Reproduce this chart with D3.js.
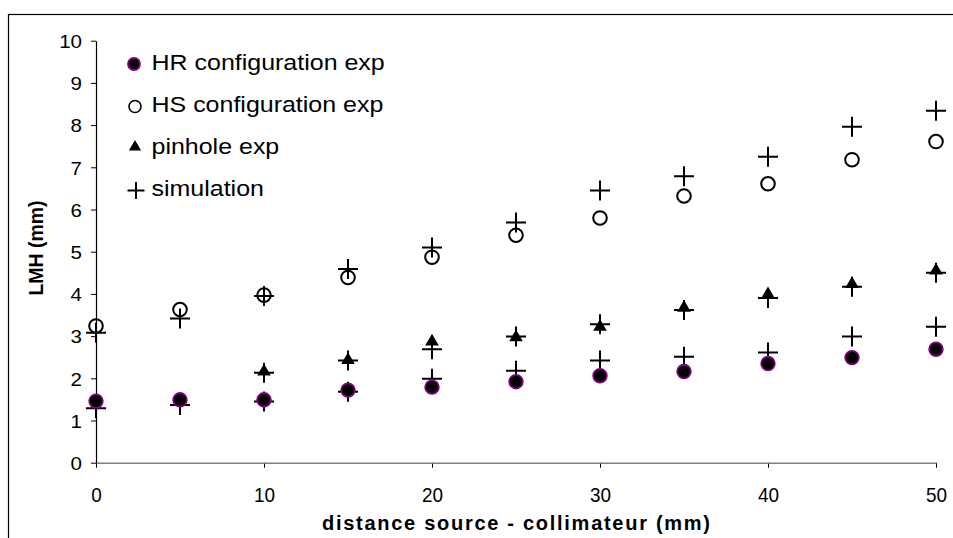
<!DOCTYPE html>
<html><head><meta charset="utf-8">
<script src="https://cdn.jsdelivr.net/npm/d3@7/dist/d3.min.js"></script>
<style>body{margin:0;background:#fff}svg{display:block}text{font-family:Arial,"Liberation Sans",sans-serif}</style>
</head><body>
<svg id="c" width="953" height="538"></svg>
<script>
const distances = [0,5,10,15,20,25,30,35,40,45,50];
const hrExp = [1.46,1.49,1.49,1.72,1.79,1.92,2.06,2.16,2.35,2.49,2.69];
const hsExp = [3.24,3.63,3.97,4.39,4.87,5.39,5.80,6.32,6.61,7.18,7.61];
const pinholeDist = [10,15,20,25,30,35,40,45,50];
const pinholeExp = [2.16,2.43,2.87,2.97,3.22,3.67,3.99,4.23,4.55];
const simHR = [1.29,1.37,1.45,1.68,1.99,2.18,2.42,2.51,2.61,2.99,3.22];
const simHS = [3.08,3.42,3.95,4.59,5.10,5.69,6.45,6.79,7.25,7.96,8.34];
const simPinhole = [2.13,2.42,2.69,2.99,3.28,3.62,3.90,4.17,4.50];
const xTicks = [0,10,20,30,40,50];
const yTicks = [0,1,2,3,4,5,6,7,8,9,10];
const legendLabels = ["HR configuration exp","HS configuration exp","pinhole exp","simulation"];
const xTitle = "distance source - collimateur (mm)";
const yTitle = "LMH (mm)";

const FONT = "Arial,'Liberation Sans',sans-serif";
const svg = d3.select("#c");
function stretch(sel, f){
  sel.each(function(){
    const w = this.getComputedTextLength();
    d3.select(this).attr("textLength", w*f).attr("lengthAdjust","spacingAndGlyphs");
  });
}
// outer frame
svg.append("rect").attr("x",8.5).attr("y",14.5).attr("width",960).attr("height",540)
  .attr("fill","none").attr("stroke","#000").attr("stroke-width",1.2);

const x = d3.scaleLinear().domain([0,50]).range([96,936]);
const y = d3.scaleLinear().domain([0,10]).range([462.7,40.7]);

// x axis (gray)
const gx = svg.append("g").attr("transform",`translate(0,${y(0)})`)
  .call(d3.axisBottom(x).tickValues(xTicks).tickSize(5).tickSizeOuter(0).tickPadding(0));
gx.select(".domain").attr("stroke","#808080").attr("stroke-width",1.5);
gx.selectAll(".tick line").attr("stroke","#000");
gx.selectAll("text").attr("font-size",21).attr("fill","#000").attr("font-family",FONT)
  .attr("y",39.5).attr("dy",null);
stretch(gx.selectAll("text"),0.9);

// y axis (black)
const gy = svg.append("g").attr("transform",`translate(${x(0)},0)`)
  .call(d3.axisLeft(y).tickValues(yTicks).tickSize(5).tickSizeOuter(0).tickPadding(0));
gy.select(".domain").attr("stroke","#000").attr("stroke-width",1.2);
gy.selectAll("text").attr("font-size",19).attr("fill","#000").attr("font-family",FONT)
  .attr("x",-14).attr("dy","0.36em");
stretch(gy.selectAll("text"),1.08);
gy.raise();
gx.select(".domain").raise();

const xt = svg.append("text").attr("x",516).attr("y",530).attr("text-anchor","middle")
  .attr("font-weight","bold").attr("font-size",20).text(xTitle);
xt.attr("textLength",388).attr("lengthAdjust","spacing");
const yt = svg.append("text").attr("transform","translate(43,248) rotate(-90)").attr("text-anchor","middle")
  .attr("font-weight","bold").attr("font-size",19.5).text(yTitle);
yt.attr("textLength",95).attr("lengthAdjust","spacingAndGlyphs");

const tri = d3.symbol().type(d3.symbolTriangle).size(80);
function plus(g, cx, cy, h){
  h = h || 10;
  g.append("path").attr("d",`M${cx-h},${cy}H${cx+h}M${cx},${cy-h}V${cy+h}`)
   .attr("stroke","#000").attr("stroke-width",2).attr("fill","none");
}

const pts = svg.append("g");
// simulation pluses
simHS.forEach((v,i)=>plus(pts, x(distances[i]), y(v)));
simPinhole.forEach((v,i)=>plus(pts, x(pinholeDist[i]), y(v)));
simHR.forEach((v,i)=>plus(pts, x(distances[i]), y(v)));
// HS open circles
pts.selectAll(".hs").data(hsExp).join("circle").attr("class","hs")
  .attr("cx",(d,i)=>x(distances[i])).attr("cy",d=>y(d)).attr("r",6.8)
  .attr("fill","none").attr("stroke","#000").attr("stroke-width",2);
// pinhole triangles
pts.selectAll(".ph").data(pinholeExp).join("path").attr("class","ph")
  .attr("d",tri).attr("transform",(d,i)=>`translate(${x(pinholeDist[i])},${y(d)})`).attr("fill","#000");
// HR filled circles
pts.selectAll(".hr").data(hrExp).join("circle").attr("class","hr")
  .attr("cx",(d,i)=>x(distances[i])).attr("cy",d=>y(d)).attr("r",6.8)
  .attr("fill","#000").attr("stroke","#800080").attr("stroke-width",1.8);

// legend
const lg = svg.append("g");
const lb = [70,112,154,196];
lg.append("circle").attr("cx",134).attr("cy",64).attr("r",6).attr("fill","#000").attr("stroke","#800080").attr("stroke-width",1.8);
lg.append("circle").attr("cx",135).attr("cy",106.5).attr("r",6).attr("fill","none").attr("stroke","#000").attr("stroke-width",1.6);
lg.append("path").attr("d",d3.symbol().type(d3.symbolTriangle).size(65)).attr("transform",`translate(135,147)`).attr("fill","#000");
plus(lg,136,190.5,8.5);
const lt = lg.selectAll(".lt").data(legendLabels).join("text").attr("class","lt")
  .attr("x",151.5).attr("y",(d,i)=>lb[i]).attr("font-size",22.5).attr("font-family",FONT).text(d=>d);
stretch(lt,1.11);
</script>
</body></html>
